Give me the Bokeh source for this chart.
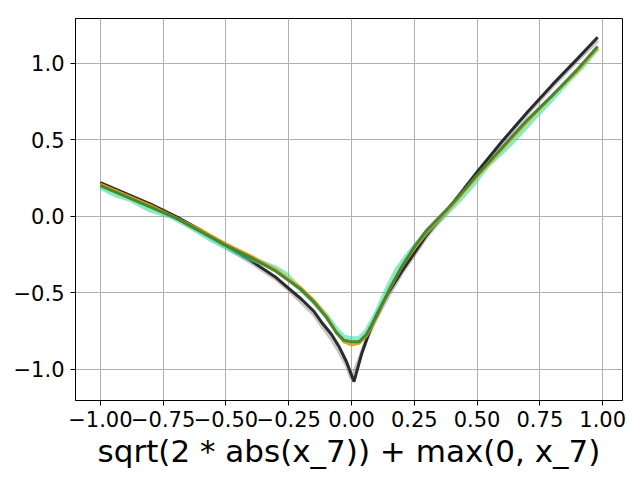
from bokeh.plotting import figure
from bokeh.models import Range1d, FixedTicker
from bokeh.embed import file_html
from bokeh.resources import INLINE

# ---- data ----
x_true = [-1.00, -0.90, -0.80, -0.70, -0.60, -0.50, -0.40, -0.30, -0.25, -0.20,
          -0.15, -0.12, -0.08, -0.05, -0.02, 0.01, 0.04, 0.07, 0.10, 0.15,
          0.20, 0.25, 0.30, 0.35, 0.40, 0.50, 0.60, 0.70, 0.80, 0.90, 0.98]
y_true = [0.22, 0.15, 0.08, 0.00, -0.09, -0.19, -0.29, -0.40, -0.47, -0.54,
          -0.62, -0.69, -0.77, -0.85, -0.95, -1.08, -0.90, -0.76, -0.64, -0.49,
          -0.36, -0.24, -0.12, -0.02, 0.08, 0.29, 0.49, 0.68, 0.86, 1.03, 1.17]

x_gray = [-1.00, -0.90, -0.80, -0.70, -0.60, -0.50, -0.40, -0.30, -0.25, -0.20,
          -0.15, -0.12, -0.08, -0.05, -0.02, 0.00, 0.03, 0.06, 0.10, 0.15,
          0.20, 0.25, 0.30, 0.35, 0.40, 0.50, 0.60, 0.70, 0.80, 0.90, 0.98]
y_gray = [0.21, 0.14, 0.07, -0.01, -0.10, -0.20, -0.30, -0.41, -0.48, -0.56,
          -0.64, -0.71, -0.80, -0.88, -0.97, -1.06, -0.94, -0.80, -0.66, -0.51,
          -0.37, -0.25, -0.13, -0.03, 0.07, 0.28, 0.48, 0.67, 0.85, 1.02, 1.15]

x_light = [-1.00, -0.94, -0.88, -0.80, -0.72, -0.64, -0.56, -0.48, -0.42, -0.36,
           -0.30, -0.26, -0.22, -0.16, -0.10, -0.06, -0.03, 0.00, 0.03, 0.06,
           0.10, 0.14, 0.18, 0.22, 0.26, 0.30, 0.36, 0.42, 0.48, 0.54,
           0.60, 0.66, 0.72, 0.80, 0.86, 0.92, 0.98]
y_light = [0.19, 0.14, 0.11, 0.04, 0.00, -0.07, -0.15, -0.22, -0.27, -0.30,
           -0.34, -0.38, -0.45, -0.54, -0.65, -0.74, -0.79, -0.80, -0.80, -0.75,
           -0.63, -0.48, -0.35, -0.26, -0.18, -0.10, -0.01, 0.09, 0.20, 0.33,
           0.42, 0.52, 0.63, 0.77, 0.88, 0.98, 1.10]

x_model = [-1.00, -0.90, -0.80, -0.70, -0.60, -0.50, -0.40, -0.30, -0.25, -0.20,
           -0.15, -0.10, -0.06, -0.03, 0.00, 0.03, 0.06, 0.10, 0.15, 0.20,
           0.25, 0.30, 0.40, 0.50, 0.60, 0.70, 0.80, 0.90, 0.98]
y_orange = [0.21, 0.14, 0.07, -0.01, -0.09, -0.18, -0.26, -0.35, -0.41, -0.47,
            -0.55, -0.65, -0.76, -0.82, -0.84, -0.83, -0.78, -0.66, -0.48, -0.33,
            -0.21, -0.10, 0.07, 0.26, 0.44, 0.62, 0.79, 0.95, 1.10]
y_dgreen = [0.20, 0.13, 0.06, -0.01, -0.10, -0.19, -0.27, -0.36, -0.42, -0.48,
            -0.56, -0.66, -0.76, -0.81, -0.82, -0.82, -0.77, -0.65, -0.48, -0.33,
            -0.20, -0.09, 0.08, 0.27, 0.45, 0.63, 0.79, 0.96, 1.11]

x_ticks = [-1.0, -0.75, -0.5, -0.25, 0.0, 0.25, 0.5, 0.75, 1.0]
x_tick_labels = ["\u22121.00", "\u22120.75", "\u22120.50", "\u22120.25", "0.00",
                 "0.25", "0.50", "0.75", "1.00"]
y_ticks = [-1.0, -0.5, 0.0, 0.5, 1.0]
y_tick_labels = ["\u22121.0", "\u22120.5", "0.0", "0.5", "1.0"]
x_label = "sqrt(2 * abs(x_7)) + max(0, x_7)"

FONT = "DejaVu Sans"

p = figure(width=632, height=472, output_backend="svg", toolbar_location=None,
           x_range=Range1d(-1.099, 1.079), y_range=Range1d(-1.203, 1.292),
           min_border_left=75, min_border_right=10, min_border_top=18,
           min_border_bottom=72)
p.background_fill_color = "white"
p.border_fill_color = "white"
p.outline_line_color = "black"
p.outline_line_width = 1
p.outline_line_alpha = 1

p.xaxis.ticker = FixedTicker(ticks=x_ticks)
p.yaxis.ticker = FixedTicker(ticks=y_ticks)
p.xaxis.major_label_overrides = dict(zip(x_ticks, x_tick_labels))
p.yaxis.major_label_overrides = dict(zip(y_ticks, y_tick_labels))
for ax in (p.xaxis, p.yaxis):
    ax.major_tick_out = 5
    ax.major_tick_in = 0
    ax.minor_tick_out = 0
    ax.minor_tick_in = 0
    ax.axis_line_color = "black"
    ax.major_tick_line_color = "black"
    ax.major_label_text_font = FONT
    ax.major_label_text_font_size = "21px"
    ax.major_label_text_color = "black"
p.xaxis.major_label_standoff = 5
p.yaxis.major_label_standoff = 6
p.xaxis.axis_label = x_label
p.xaxis.axis_label_text_font = FONT
p.xaxis.axis_label_text_font_size = "31px"
p.xaxis.axis_label_text_font_style = "normal"
p.xaxis.axis_label_text_color = "black"
p.xaxis.axis_label_standoff = 3

p.grid.grid_line_color = "#b0b0b0"
p.grid.grid_line_width = 1

p.line(x_gray, y_gray, line_color="#808080", line_width=4, line_alpha=0.45)
p.line(x_true, y_true, line_color="#222222", line_width=3, line_alpha=0.95)
p.line(x_light, y_light, line_color="#3ddc97", line_width=5, line_alpha=0.6)
p.line(x_model, y_orange, line_color="#e8a010", line_width=3, line_alpha=0.95)
p.line(x_model, y_dgreen, line_color="#3f8533", line_width=3, line_alpha=0.95)

open("out.html", "w").write(file_html(p, INLINE))
